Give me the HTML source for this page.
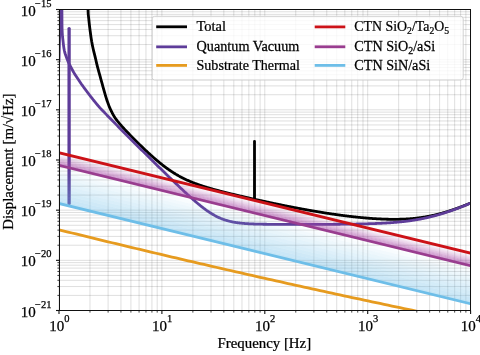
<!DOCTYPE html>
<html><head><meta charset="utf-8"><style>
html,body{margin:0;padding:0;background:#fff;width:480px;height:355px;overflow:hidden}
svg{display:block;will-change:transform}
text{font-family:"Liberation Serif",serif}
</style></head><body>
<svg width="480" height="355" viewBox="0 0 480 355">
<rect width="480" height="355" fill="#fff"/>
<defs><clipPath id="cp"><rect x="59.0" y="9.5" width="411.6" height="301.0"/></clipPath></defs>
<g stroke="#000" stroke-opacity="0.145" stroke-width="0.9">
<line x1="59.00" y1="9.5" x2="59.00" y2="310.5" />
<line x1="89.98" y1="9.5" x2="89.98" y2="310.5" />
<line x1="108.10" y1="9.5" x2="108.10" y2="310.5" />
<line x1="120.95" y1="9.5" x2="120.95" y2="310.5" />
<line x1="130.92" y1="9.5" x2="130.92" y2="310.5" />
<line x1="139.07" y1="9.5" x2="139.07" y2="310.5" />
<line x1="145.96" y1="9.5" x2="145.96" y2="310.5" />
<line x1="151.93" y1="9.5" x2="151.93" y2="310.5" />
<line x1="157.19" y1="9.5" x2="157.19" y2="310.5" />
<line x1="161.90" y1="9.5" x2="161.90" y2="310.5" />
<line x1="192.88" y1="9.5" x2="192.88" y2="310.5" />
<line x1="211.00" y1="9.5" x2="211.00" y2="310.5" />
<line x1="223.85" y1="9.5" x2="223.85" y2="310.5" />
<line x1="233.82" y1="9.5" x2="233.82" y2="310.5" />
<line x1="241.97" y1="9.5" x2="241.97" y2="310.5" />
<line x1="248.86" y1="9.5" x2="248.86" y2="310.5" />
<line x1="254.83" y1="9.5" x2="254.83" y2="310.5" />
<line x1="260.09" y1="9.5" x2="260.09" y2="310.5" />
<line x1="264.80" y1="9.5" x2="264.80" y2="310.5" />
<line x1="295.78" y1="9.5" x2="295.78" y2="310.5" />
<line x1="313.90" y1="9.5" x2="313.90" y2="310.5" />
<line x1="326.75" y1="9.5" x2="326.75" y2="310.5" />
<line x1="336.72" y1="9.5" x2="336.72" y2="310.5" />
<line x1="344.87" y1="9.5" x2="344.87" y2="310.5" />
<line x1="351.76" y1="9.5" x2="351.76" y2="310.5" />
<line x1="357.73" y1="9.5" x2="357.73" y2="310.5" />
<line x1="362.99" y1="9.5" x2="362.99" y2="310.5" />
<line x1="367.70" y1="9.5" x2="367.70" y2="310.5" />
<line x1="398.68" y1="9.5" x2="398.68" y2="310.5" />
<line x1="416.80" y1="9.5" x2="416.80" y2="310.5" />
<line x1="429.65" y1="9.5" x2="429.65" y2="310.5" />
<line x1="439.62" y1="9.5" x2="439.62" y2="310.5" />
<line x1="447.77" y1="9.5" x2="447.77" y2="310.5" />
<line x1="454.66" y1="9.5" x2="454.66" y2="310.5" />
<line x1="460.63" y1="9.5" x2="460.63" y2="310.5" />
<line x1="465.89" y1="9.5" x2="465.89" y2="310.5" />
<line x1="470.60" y1="9.5" x2="470.60" y2="310.5" />
<line x1="59.0" y1="310.50" x2="470.6" y2="310.50" />
<line x1="59.0" y1="295.40" x2="470.6" y2="295.40" />
<line x1="59.0" y1="286.56" x2="470.6" y2="286.56" />
<line x1="59.0" y1="280.30" x2="470.6" y2="280.30" />
<line x1="59.0" y1="275.44" x2="470.6" y2="275.44" />
<line x1="59.0" y1="271.46" x2="470.6" y2="271.46" />
<line x1="59.0" y1="268.10" x2="470.6" y2="268.10" />
<line x1="59.0" y1="265.19" x2="470.6" y2="265.19" />
<line x1="59.0" y1="262.63" x2="470.6" y2="262.63" />
<line x1="59.0" y1="260.33" x2="470.6" y2="260.33" />
<line x1="59.0" y1="245.23" x2="470.6" y2="245.23" />
<line x1="59.0" y1="236.40" x2="470.6" y2="236.40" />
<line x1="59.0" y1="230.13" x2="470.6" y2="230.13" />
<line x1="59.0" y1="225.27" x2="470.6" y2="225.27" />
<line x1="59.0" y1="221.30" x2="470.6" y2="221.30" />
<line x1="59.0" y1="217.94" x2="470.6" y2="217.94" />
<line x1="59.0" y1="215.03" x2="470.6" y2="215.03" />
<line x1="59.0" y1="212.46" x2="470.6" y2="212.46" />
<line x1="59.0" y1="210.17" x2="470.6" y2="210.17" />
<line x1="59.0" y1="195.06" x2="470.6" y2="195.06" />
<line x1="59.0" y1="186.23" x2="470.6" y2="186.23" />
<line x1="59.0" y1="179.96" x2="470.6" y2="179.96" />
<line x1="59.0" y1="175.10" x2="470.6" y2="175.10" />
<line x1="59.0" y1="171.13" x2="470.6" y2="171.13" />
<line x1="59.0" y1="167.77" x2="470.6" y2="167.77" />
<line x1="59.0" y1="164.86" x2="470.6" y2="164.86" />
<line x1="59.0" y1="162.30" x2="470.6" y2="162.30" />
<line x1="59.0" y1="160.00" x2="470.6" y2="160.00" />
<line x1="59.0" y1="144.90" x2="470.6" y2="144.90" />
<line x1="59.0" y1="136.06" x2="470.6" y2="136.06" />
<line x1="59.0" y1="129.80" x2="470.6" y2="129.80" />
<line x1="59.0" y1="124.94" x2="470.6" y2="124.94" />
<line x1="59.0" y1="120.96" x2="470.6" y2="120.96" />
<line x1="59.0" y1="117.60" x2="470.6" y2="117.60" />
<line x1="59.0" y1="114.69" x2="470.6" y2="114.69" />
<line x1="59.0" y1="112.13" x2="470.6" y2="112.13" />
<line x1="59.0" y1="109.83" x2="470.6" y2="109.83" />
<line x1="59.0" y1="94.73" x2="470.6" y2="94.73" />
<line x1="59.0" y1="85.90" x2="470.6" y2="85.90" />
<line x1="59.0" y1="79.63" x2="470.6" y2="79.63" />
<line x1="59.0" y1="74.77" x2="470.6" y2="74.77" />
<line x1="59.0" y1="70.80" x2="470.6" y2="70.80" />
<line x1="59.0" y1="67.44" x2="470.6" y2="67.44" />
<line x1="59.0" y1="64.53" x2="470.6" y2="64.53" />
<line x1="59.0" y1="61.96" x2="470.6" y2="61.96" />
<line x1="59.0" y1="59.67" x2="470.6" y2="59.67" />
<line x1="59.0" y1="44.56" x2="470.6" y2="44.56" />
<line x1="59.0" y1="35.73" x2="470.6" y2="35.73" />
<line x1="59.0" y1="29.46" x2="470.6" y2="29.46" />
<line x1="59.0" y1="24.60" x2="470.6" y2="24.60" />
<line x1="59.0" y1="20.63" x2="470.6" y2="20.63" />
<line x1="59.0" y1="17.27" x2="470.6" y2="17.27" />
<line x1="59.0" y1="14.36" x2="470.6" y2="14.36" />
<line x1="59.0" y1="11.80" x2="470.6" y2="11.80" />
</g>
<g clip-path="url(#cp)" fill="none" stroke-linejoin="round" stroke-linecap="butt">
<path d="M87.70,0.00 L88.20,14.12 L88.70,18.40 L89.20,23.03 L89.70,27.31 L90.20,31.27 L90.70,35.03 L91.20,38.51 L91.70,41.58 L92.20,44.27 L92.70,46.71 L93.20,49.00 L93.70,51.13 L94.20,53.11 L94.70,55.08 L95.20,57.14 L95.70,59.28 L96.20,61.45 L96.70,63.57 L97.20,65.63 L97.70,67.58 L98.20,69.46 L98.70,71.30 L99.20,73.12 L99.70,74.93 L100.20,76.74 L100.70,78.54 L101.20,80.35 L101.70,82.17 L102.20,83.99 L102.70,85.83 L103.20,87.65 L103.70,89.46 L104.20,91.24 L104.70,92.97 L105.20,94.66 L105.70,96.30 L106.20,97.90 L106.70,99.45 L107.20,100.95 L107.70,102.39 L108.20,103.78 L108.70,105.12 L109.20,106.39 L109.70,107.62 L110.20,108.78 L110.70,109.90 L111.20,110.96 L111.70,111.98 L112.20,112.95 L112.70,113.87 L113.20,114.75 L113.70,115.60 L114.20,116.41 L114.70,117.19 L115.20,117.94 L115.70,118.67 L116.20,119.37 L116.70,120.05 L117.20,120.71 L117.70,121.36 L118.20,121.98 L118.70,122.60 L119.20,123.21 L119.70,123.80 L120.20,124.38 L120.70,124.96 L121.20,125.53 L121.70,126.09 L122.20,126.65 L122.70,127.20 L123.20,127.75 L123.70,128.29 L124.20,128.83 L124.70,129.37 L125.20,129.90 L125.70,130.43 L126.20,130.96 L126.70,131.48 L127.20,132.01 L127.70,132.53 L128.20,133.05 L128.70,133.57 L129.20,134.08 L129.70,134.60 L130.20,135.11 L130.70,135.63 L131.20,136.14 L131.70,136.65 L132.20,137.16 L132.70,137.66 L133.20,138.17 L133.70,138.67 L134.20,139.18 L134.70,139.68 L135.20,140.18 L135.70,140.68 L136.20,141.18 L136.70,141.68 L137.20,142.17 L137.70,142.67 L138.20,143.16 L138.70,143.66 L139.20,144.15 L139.70,144.64 L140.20,145.13 L140.70,145.61 L141.20,146.10 L141.70,146.58 L142.20,147.07 L142.70,147.55 L143.20,148.03 L143.70,148.50 L144.20,148.98 L144.70,149.46 L145.20,149.93 L145.70,150.40 L146.20,150.87 L146.70,151.34 L147.20,151.80 L147.70,152.27 L148.20,152.73 L148.70,153.19 L149.20,153.65 L149.70,154.11 L150.20,154.56 L150.70,155.02 L151.20,155.47 L151.70,155.91 L152.20,156.36 L152.70,156.80 L153.20,157.25 L153.70,157.68 L154.20,158.12 L154.70,158.56 L155.20,158.99 L155.70,159.42 L156.20,159.84 L156.70,160.27 L157.20,160.69 L157.70,161.11 L158.20,161.53 L158.70,161.94 L159.20,162.35 L159.70,162.76 L160.20,163.16 L160.70,163.56 L161.20,163.96 L161.70,164.36 L162.20,164.75 L162.70,165.14 L163.20,165.53 L163.70,165.91 L164.20,166.29 L164.70,166.67 L165.20,167.05 L165.70,167.42 L166.20,167.78 L166.70,168.15 L167.20,168.51 L167.70,168.87 L168.20,169.22 L168.70,169.57 L169.20,169.92 L169.70,170.26 L170.20,170.60 L170.70,170.94 L171.20,171.27 L171.70,171.60 L172.20,171.93 L172.70,172.25 L173.20,172.57 L173.70,172.89 L174.20,173.20 L174.70,173.51 L175.20,173.81 L175.70,174.12 L176.20,174.41 L176.70,174.71 L177.20,175.00 L177.70,175.29 L178.20,175.57 L178.70,175.86 L179.20,176.13 L179.70,176.41 L180.20,176.68 L180.70,176.95 L181.20,177.21 L181.70,177.47 L182.20,177.73 L182.70,177.99 L183.20,178.24 L183.70,178.49 L184.20,178.73 L184.70,178.98 L185.20,179.22 L185.70,179.45 L186.20,179.69 L186.70,179.92 L187.20,180.15 L187.70,180.37 L188.20,180.60 L188.70,180.82 L189.20,181.03 L189.70,181.25 L190.20,181.46 L190.70,181.67 L191.20,181.88 L191.70,182.08 L192.20,182.29 L192.70,182.49 L193.20,182.69 L193.70,182.88 L194.20,183.08 L194.70,183.27 L195.20,183.46 L195.70,183.64 L196.20,183.83 L196.70,184.01 L197.20,184.19 L197.70,184.37 L198.20,184.55 L198.70,184.73 L199.20,184.90 L199.70,185.08 L200.20,185.25 L200.70,185.42 L201.20,185.58 L201.70,185.75 L202.20,185.91 L202.70,186.08 L203.20,186.24 L203.70,186.40 L204.20,186.56 L204.70,186.72 L205.20,186.87 L205.70,187.03 L206.20,187.18 L206.70,187.34 L207.20,187.49 L207.70,187.64 L208.20,187.79 L208.70,187.94 L209.20,188.08 L209.70,188.23 L210.20,188.37 L210.70,188.52 L211.20,188.66 L211.70,188.81 L212.20,188.95 L212.70,189.09 L213.20,189.23 L213.70,189.37 L214.20,189.51 L214.70,189.64 L215.20,189.78 L215.70,189.92 L216.20,190.05 L216.70,190.19 L217.20,190.32 L217.70,190.46 L218.20,190.59 L218.70,190.72 L219.20,190.85 L219.70,190.98 L220.20,191.11 L220.70,191.24 L221.20,191.37 L221.70,191.50 L222.20,191.63 L222.70,191.76 L223.20,191.89 L223.70,192.01 L224.20,192.14 L224.70,192.27 L225.20,192.39 L225.70,192.52 L226.20,192.64 L226.70,192.77 L227.20,192.89 L227.70,193.02 L228.20,193.14 L228.70,193.26 L229.20,193.38 L229.70,193.51 L230.20,193.63 L230.70,193.75 L231.20,193.87 L231.70,193.99 L232.20,194.11 L232.70,194.23 L233.20,194.35 L233.70,194.47 L234.20,194.59 L234.70,194.71 L235.20,194.83 L235.70,194.95 L236.20,195.07 L236.70,195.19 L237.20,195.31 L237.70,195.42 L238.20,195.54 L238.70,195.66 L239.20,195.78 L239.70,195.89 L240.20,196.01 L240.70,196.13 L241.20,196.24 L241.70,196.36 L242.20,196.47 L242.70,196.59 L243.20,196.70 L243.70,196.82 L244.20,196.93 L244.70,197.05 L245.20,197.16 L245.70,197.28 L246.20,197.39 L246.70,197.51 L247.20,197.62 L247.70,197.73 L248.20,197.85 L248.70,197.96 L249.20,198.07 L249.70,198.19 L250.20,198.30 L250.70,198.41 L251.20,198.52 L251.70,198.64 L252.20,198.75 L252.70,198.86 L253.20,198.97 L253.70,199.08 L254.20,199.19 L254.47,199.26 L254.50,141.30 L254.53,199.26 L254.70,199.31 L255.20,199.42 L255.70,199.53 L256.20,199.64 L256.70,199.75 L257.20,199.86 L257.70,199.97 L258.20,200.08 L258.70,200.19 L259.20,200.30 L259.70,200.41 L260.20,200.52 L260.70,200.63 L261.20,200.73 L261.70,200.84 L262.20,200.95 L262.70,201.06 L263.20,201.17 L263.70,201.28 L264.20,201.38 L264.70,201.49 L265.20,201.60 L265.70,201.71 L266.20,201.81 L266.70,201.92 L267.20,202.03 L267.70,202.13 L268.20,202.24 L268.70,202.35 L269.20,202.45 L269.70,202.56 L270.20,202.67 L270.70,202.77 L271.20,202.88 L271.70,202.98 L272.20,203.09 L272.70,203.19 L273.20,203.30 L273.70,203.40 L274.20,203.51 L274.70,203.61 L275.20,203.71 L275.70,203.82 L276.20,203.92 L276.70,204.02 L277.20,204.13 L277.70,204.23 L278.20,204.33 L278.70,204.44 L279.20,204.54 L279.70,204.64 L280.20,204.74 L280.70,204.85 L281.20,204.95 L281.70,205.05 L282.20,205.15 L282.70,205.25 L283.20,205.35 L283.70,205.45 L284.20,205.55 L284.70,205.65 L285.20,205.75 L285.70,205.85 L286.20,205.95 L286.70,206.05 L287.20,206.15 L287.70,206.25 L288.20,206.35 L288.70,206.45 L289.20,206.55 L289.70,206.64 L290.20,206.74 L290.70,206.84 L291.20,206.94 L291.70,207.03 L292.20,207.13 L292.70,207.23 L293.20,207.32 L293.70,207.42 L294.20,207.52 L294.70,207.61 L295.20,207.71 L295.70,207.80 L296.20,207.90 L296.70,207.99 L297.20,208.09 L297.70,208.18 L298.20,208.28 L298.70,208.37 L299.20,208.46 L299.70,208.56 L300.20,208.65 L300.70,208.74 L301.20,208.84 L301.70,208.93 L302.20,209.02 L302.70,209.11 L303.20,209.20 L303.70,209.30 L304.20,209.39 L304.70,209.48 L305.20,209.57 L305.70,209.66 L306.20,209.75 L306.70,209.84 L307.20,209.93 L307.70,210.02 L308.20,210.10 L308.70,210.19 L309.20,210.28 L309.70,210.37 L310.20,210.46 L310.70,210.54 L311.20,210.63 L311.70,210.72 L312.20,210.81 L312.70,210.89 L313.20,210.98 L313.70,211.06 L314.20,211.15 L314.70,211.23 L315.20,211.32 L315.70,211.40 L316.20,211.49 L316.70,211.57 L317.20,211.65 L317.70,211.74 L318.20,211.82 L318.70,211.90 L319.20,211.99 L319.70,212.07 L320.20,212.15 L320.70,212.23 L321.20,212.31 L321.70,212.39 L322.20,212.47 L322.70,212.55 L323.20,212.63 L323.70,212.71 L324.20,212.79 L324.70,212.87 L325.20,212.95 L325.70,213.03 L326.20,213.10 L326.70,213.18 L327.20,213.26 L327.70,213.33 L328.20,213.41 L328.70,213.49 L329.20,213.56 L329.70,213.64 L330.20,213.71 L330.70,213.79 L331.20,213.86 L331.70,213.93 L332.20,214.01 L332.70,214.08 L333.20,214.15 L333.70,214.23 L334.20,214.30 L334.70,214.37 L335.20,214.44 L335.70,214.51 L336.20,214.58 L336.70,214.65 L337.20,214.72 L337.70,214.79 L338.20,214.86 L338.70,214.93 L339.20,215.00 L339.70,215.06 L340.20,215.13 L340.70,215.20 L341.20,215.27 L341.70,215.33 L342.20,215.40 L342.70,215.46 L343.20,215.53 L343.70,215.59 L344.20,215.66 L344.70,215.72 L345.20,215.78 L345.70,215.85 L346.20,215.91 L346.70,215.97 L347.20,216.03 L347.70,216.09 L348.20,216.15 L348.70,216.21 L349.20,216.27 L349.70,216.33 L350.20,216.39 L350.70,216.45 L351.20,216.51 L351.70,216.57 L352.20,216.62 L352.70,216.68 L353.20,216.74 L353.70,216.79 L354.20,216.85 L354.70,216.90 L355.20,216.96 L355.70,217.01 L356.20,217.06 L356.70,217.12 L357.20,217.17 L357.70,217.22 L358.20,217.27 L358.70,217.32 L359.20,217.37 L359.70,217.42 L360.20,217.47 L360.70,217.52 L361.20,217.57 L361.70,217.62 L362.20,217.66 L362.70,217.71 L363.20,217.76 L363.70,217.80 L364.20,217.85 L364.70,217.89 L365.20,217.94 L365.70,217.98 L366.20,218.02 L366.70,218.07 L367.20,218.11 L367.70,218.15 L368.20,218.19 L368.70,218.23 L369.20,218.27 L369.70,218.31 L370.20,218.35 L370.70,218.38 L371.20,218.42 L371.70,218.46 L372.20,218.49 L372.70,218.53 L373.20,218.56 L373.70,218.60 L374.20,218.63 L374.70,218.66 L375.20,218.69 L375.70,218.72 L376.20,218.75 L376.70,218.78 L377.20,218.81 L377.70,218.84 L378.20,218.87 L378.70,218.90 L379.20,218.92 L379.70,218.95 L380.20,218.97 L380.70,219.00 L381.20,219.02 L381.70,219.04 L382.20,219.07 L382.70,219.09 L383.20,219.11 L383.70,219.13 L384.20,219.15 L384.70,219.16 L385.20,219.18 L385.70,219.20 L386.20,219.21 L386.70,219.23 L387.20,219.24 L387.70,219.25 L388.20,219.26 L388.70,219.28 L389.20,219.29 L389.70,219.30 L390.20,219.30 L390.70,219.31 L391.20,219.32 L391.70,219.32 L392.20,219.33 L392.70,219.33 L393.20,219.33 L393.70,219.34 L394.20,219.34 L394.70,219.34 L395.20,219.33 L395.70,219.33 L396.20,219.33 L396.70,219.32 L397.20,219.32 L397.70,219.31 L398.20,219.30 L398.70,219.29 L399.20,219.28 L399.70,219.27 L400.20,219.26 L400.70,219.25 L401.20,219.23 L401.70,219.22 L402.20,219.20 L402.70,219.18 L403.20,219.16 L403.70,219.14 L404.20,219.12 L404.70,219.10 L405.20,219.07 L405.70,219.05 L406.20,219.02 L406.70,218.99 L407.20,218.96 L407.70,218.93 L408.20,218.90 L408.70,218.86 L409.20,218.83 L409.70,218.79 L410.20,218.75 L410.70,218.72 L411.20,218.68 L411.70,218.63 L412.20,218.59 L412.70,218.54 L413.20,218.50 L413.70,218.45 L414.20,218.40 L414.70,218.35 L415.20,218.30 L415.70,218.24 L416.20,218.19 L416.70,218.13 L417.20,218.07 L417.70,218.01 L418.20,217.95 L418.70,217.89 L419.20,217.82 L419.70,217.76 L420.20,217.69 L420.70,217.62 L421.20,217.55 L421.70,217.48 L422.20,217.40 L422.70,217.33 L423.20,217.25 L423.70,217.17 L424.20,217.09 L424.70,217.01 L425.20,216.92 L425.70,216.84 L426.20,216.75 L426.70,216.66 L427.20,216.57 L427.70,216.48 L428.20,216.39 L428.70,216.29 L429.20,216.19 L429.70,216.09 L430.20,215.99 L430.70,215.89 L431.20,215.79 L431.70,215.68 L432.20,215.58 L432.70,215.47 L433.20,215.36 L433.70,215.24 L434.20,215.13 L434.70,215.02 L435.20,214.90 L435.70,214.78 L436.20,214.66 L436.70,214.54 L437.20,214.41 L437.70,214.29 L438.20,214.16 L438.70,214.03 L439.20,213.90 L439.70,213.77 L440.20,213.64 L440.70,213.50 L441.20,213.37 L441.70,213.23 L442.20,213.09 L442.70,212.95 L443.20,212.81 L443.70,212.66 L444.20,212.52 L444.70,212.37 L445.20,212.22 L445.70,212.07 L446.20,211.92 L446.70,211.77 L447.20,211.62 L447.70,211.46 L448.20,211.30 L448.70,211.15 L449.20,210.99 L449.70,210.83 L450.20,210.66 L450.70,210.50 L451.20,210.33 L451.70,210.17 L452.20,210.00 L452.70,209.83 L453.20,209.66 L453.70,209.49 L454.20,209.32 L454.70,209.14 L455.20,208.97 L455.70,208.79 L456.20,208.61 L456.70,208.43 L457.20,208.25 L457.70,208.07 L458.20,207.89 L458.70,207.71 L459.20,207.52 L459.70,207.34 L460.20,207.15 L460.70,206.96 L461.20,206.78 L461.70,206.59 L462.20,206.40 L462.70,206.20 L463.20,206.01 L463.70,205.82 L464.20,205.62 L464.70,205.43 L465.20,205.23 L465.70,205.04 L466.20,204.84 L466.70,204.64 L467.20,204.44 L467.70,204.24 L468.20,204.04 L468.70,203.83 L469.20,203.63 L469.70,203.43 L470.20,203.22 L470.70,203.02 L471.20,202.81" stroke="#000000" stroke-width="2.8"/>
<path d="M59.00,62.00 L59.40,45.00 L59.80,30.00 L60.10,15.00 L60.30,0.00 L60.50,-5.00 L61.00,-5.00 L61.80,0.00 L61.81,0.50 L61.81,1.00 L61.82,1.50 L61.82,2.00 L61.83,2.50 L61.84,3.00 L61.84,3.50 L61.85,4.00 L61.85,4.50 L61.86,5.00 L61.86,5.50 L61.87,6.00 L61.87,6.50 L61.88,7.00 L61.88,7.50 L61.89,8.00 L61.89,8.50 L61.90,9.00 L61.90,9.50 L61.90,10.00 L61.91,10.50 L61.91,11.00 L61.91,11.50 L61.92,12.00 L61.92,12.50 L61.92,13.00 L61.93,13.50 L61.93,14.00 L61.93,14.50 L61.93,15.00 L61.94,15.50 L61.94,16.00 L61.94,16.50 L61.94,17.00 L61.94,17.50 L61.95,18.00 L61.95,18.50 L61.95,19.00 L61.95,19.50 L61.96,20.00 L61.96,20.50 L61.96,21.00 L61.97,21.50 L61.97,22.00 L61.98,22.50 L61.98,23.00 L61.98,23.50 L61.99,24.00 L61.99,24.50 L62.00,25.00 L62.01,25.50 L62.02,26.00 L62.02,26.50 L62.04,27.00 L62.05,27.50 L62.06,28.00 L62.08,28.50 L62.10,29.00 L62.12,29.50 L62.14,30.00 L62.16,30.50 L62.18,31.00 L62.20,31.50 L62.23,32.00 L62.25,32.50 L62.28,33.00 L62.31,33.50 L62.34,34.00 L62.37,34.50 L62.40,35.00 L62.44,35.50 L62.48,36.00 L62.52,36.50 L62.58,37.00 L62.63,37.50 L62.68,38.00 L62.74,38.50 L62.80,39.00 L62.86,39.50 L62.92,40.00 L62.98,40.50 L63.03,41.00 L63.09,41.50 L63.14,42.00 L63.20,42.50 L63.25,43.00 L63.31,43.50 L63.36,44.00 L63.42,44.50 L63.48,45.00 L63.54,45.50 L63.61,46.00 L63.67,46.50 L63.74,47.00 L63.82,47.50 L63.89,48.00 L63.97,48.50 L64.06,49.00 L64.15,49.50 L64.24,50.00 L64.34,50.50 L64.44,51.00 L64.56,51.50 L64.68,52.00 L64.82,52.50 L64.97,53.00 L65.12,53.50 L65.29,54.00 L65.46,54.50 L65.63,55.00 L65.80,55.50 L65.98,56.00 L66.16,56.50 L66.34,57.00 L66.51,57.50 L66.69,58.00 L66.88,58.50 L67.06,59.00 L67.25,59.50 L67.45,60.00 L67.64,60.50 L67.85,61.00 L68.06,61.50 L68.27,62.00 L68.49,62.50 L68.72,63.00 L68.96,63.50 L69.20,64.00 L69.45,64.50 L69.71,65.00 L69.97,65.50 L70.24,66.00 L70.50,66.50 L70.77,67.00 L71.04,67.50 L71.31,68.00 L71.57,68.50 L71.84,69.00 L72.12,69.50 L72.39,70.00 L72.67,70.50 L72.95,71.00 L73.23,71.50 L73.51,72.00 L73.81,72.50 L74.00,72.83 L74.50,73.66 L75.00,74.47 L75.50,75.25 L76.00,76.02 L76.50,76.77 L77.00,77.52 L77.50,78.26 L78.00,79.00 L78.50,79.75 L79.00,80.50 L79.50,81.26 L80.00,82.01 L80.50,82.76 L81.00,83.49 L81.50,84.22 L82.00,84.91 L82.50,85.60 L83.00,86.28 L83.50,86.96 L84.00,87.64 L84.50,88.32 L85.00,89.00 L85.50,89.68 L86.00,90.35 L86.50,91.02 L87.00,91.69 L87.50,92.36 L88.00,93.02 L88.50,93.69 L89.00,94.35 L89.50,95.00 L90.00,95.66 L90.50,96.31 L91.00,96.95 L91.50,97.59 L92.00,98.23 L92.50,98.87 L93.00,99.50 L93.50,100.13 L94.00,100.75 L94.50,101.37 L95.00,101.99 L95.50,102.60 L96.00,103.21 L96.50,103.81 L97.00,104.40 L97.50,105.00 L98.00,105.58 L98.50,106.16 L99.00,106.74 L99.50,107.31 L100.00,107.87 L100.50,108.40 L101.00,108.92 L101.50,109.45 L102.00,109.97 L102.50,110.49 L103.00,111.02 L103.50,111.54 L104.00,112.06 L104.50,112.58 L105.00,113.10 L105.50,113.61 L106.00,114.13 L106.50,114.65 L107.00,115.16 L107.50,115.68 L108.00,116.20 L108.50,116.71 L109.00,117.22 L109.50,117.74 L110.00,118.25 L110.50,118.76 L111.00,119.27 L111.50,119.78 L112.00,120.30 L112.50,120.81 L113.00,121.32 L113.50,121.83 L114.00,122.33 L114.50,122.84 L115.00,123.35 L115.50,123.86 L116.00,124.37 L116.50,124.87 L117.00,125.38 L117.50,125.89 L118.00,126.39 L118.50,126.90 L119.00,127.40 L119.50,127.91 L120.00,128.41 L120.50,128.92 L121.00,129.42 L121.50,129.92 L122.00,130.43 L122.50,130.93 L123.00,131.43 L123.50,131.94 L124.00,132.44 L124.50,132.94 L125.00,133.44 L125.50,133.94 L126.00,134.45 L126.50,134.95 L127.00,135.45 L127.50,135.95 L128.00,136.45 L128.50,136.95 L129.00,137.45 L129.50,137.95 L130.00,138.45 L130.50,138.95 L131.00,139.45 L131.50,139.95 L132.00,140.44 L132.50,140.94 L133.00,141.44 L133.50,141.94 L134.00,142.44 L134.50,142.94 L135.00,143.43 L135.50,143.93 L136.00,144.43 L136.50,144.92 L137.00,145.42 L137.50,145.92 L138.00,146.41 L138.50,146.91 L139.00,147.41 L139.50,147.90 L140.00,148.40 L140.50,148.90 L141.00,149.39 L141.50,149.89 L142.00,150.38 L142.50,150.88 L143.00,151.37 L143.50,151.87 L144.00,152.36 L144.50,152.86 L145.00,153.35 L145.50,153.85 L146.00,154.34 L146.50,154.83 L147.00,155.33 L147.50,155.82 L148.00,156.31 L148.50,156.81 L149.00,157.30 L149.50,157.79 L150.00,158.29 L150.50,158.78 L151.00,159.27 L151.50,159.77 L152.00,160.26 L152.50,160.75 L153.00,161.24 L153.50,161.74 L154.00,162.23 L154.50,162.72 L155.00,163.21 L155.50,163.70 L156.00,164.19 L156.50,164.68 L157.00,165.17 L157.50,165.67 L158.00,166.16 L158.50,166.65 L159.00,167.14 L159.50,167.63 L160.00,168.12 L160.50,168.61 L161.00,169.10 L161.50,169.58 L162.00,170.07 L162.50,170.56 L163.00,171.05 L163.50,171.54 L164.00,172.03 L164.50,172.51 L165.00,173.00 L165.50,173.49 L166.00,173.98 L166.50,174.46 L167.00,174.95 L167.50,175.44 L168.00,175.92 L168.50,176.41 L169.00,176.89 L169.50,177.38 L170.00,177.86 L170.50,178.35 L171.00,178.83 L171.50,179.32 L172.00,179.80 L172.50,180.28 L173.00,180.76 L173.50,181.25 L174.00,181.73 L174.50,182.21 L175.00,182.69 L175.50,183.17 L176.00,183.65 L176.50,184.13 L177.00,184.60 L177.50,185.08 L178.00,185.56 L178.50,186.04 L179.00,186.51 L179.50,186.99 L180.00,187.46 L180.50,187.94 L181.00,188.41 L181.50,188.88 L182.00,189.35 L182.50,189.82 L183.00,190.29 L183.50,190.76 L184.00,191.23 L184.50,191.69 L185.00,192.16 L185.50,192.62 L186.00,193.09 L186.50,193.55 L187.00,194.01 L187.50,194.47 L188.00,194.92 L188.50,195.38 L189.00,195.84 L189.50,196.29 L190.00,196.74 L190.50,197.19 L191.00,197.64 L191.50,198.09 L192.00,198.53 L192.50,198.98 L193.00,199.42 L193.50,199.86 L194.00,200.29 L194.50,200.73 L195.00,201.16 L195.50,201.59 L196.00,202.02 L196.50,202.45 L197.00,202.87 L197.50,203.29 L198.00,203.71 L198.50,204.12 L199.00,204.53 L199.50,204.94 L200.00,205.35 L200.50,205.75 L201.00,206.15 L201.50,206.55 L202.00,206.94 L202.50,207.33 L203.00,207.71 L203.50,208.10 L204.00,208.47 L204.50,208.85 L205.00,209.22 L205.50,209.58 L206.00,209.95 L206.50,210.30 L207.00,210.66 L207.50,211.00 L208.00,211.35 L208.50,211.69 L209.00,212.02 L209.50,212.35 L210.00,212.68 L210.50,213.00 L211.00,213.31 L211.50,213.62 L212.00,213.93 L212.50,214.23 L213.00,214.52 L213.50,214.81 L214.00,215.09 L214.50,215.37 L215.00,215.64 L215.50,215.91 L216.00,216.17 L216.50,216.43 L217.00,216.68 L217.50,216.93 L218.00,217.17 L218.50,217.40 L219.00,217.63 L219.50,217.85 L220.00,218.07 L220.50,218.29 L221.00,218.49 L221.50,218.70 L222.00,218.89 L222.50,219.08 L223.00,219.27 L223.50,219.45 L224.00,219.63 L224.50,219.80 L225.00,219.97 L225.50,220.13 L226.00,220.28 L226.50,220.43 L227.00,220.58 L227.50,220.72 L228.00,220.86 L228.50,221.00 L229.00,221.13 L229.50,221.25 L230.00,221.37 L230.50,221.49 L231.00,221.60 L231.50,221.71 L232.00,221.82 L232.50,221.92 L233.00,222.02 L233.50,222.11 L234.00,222.20 L234.50,222.29 L235.00,222.37 L235.50,222.46 L236.00,222.54 L236.50,222.61 L237.00,222.68 L237.50,222.75 L238.00,222.82 L238.50,222.89 L239.00,222.95 L239.50,223.01 L240.00,223.07 L240.50,223.12 L241.00,223.18 L241.50,223.23 L242.00,223.28 L242.50,223.32 L243.00,223.37 L243.50,223.41 L244.00,223.45 L244.50,223.49 L245.00,223.53 L245.50,223.57 L246.00,223.61 L246.50,223.64 L247.00,223.67 L247.50,223.70 L248.00,223.73 L248.50,223.76 L249.00,223.79 L249.50,223.82 L250.00,223.84 L250.50,223.87 L251.00,223.89 L251.50,223.91 L252.00,223.93 L252.50,223.95 L253.00,223.97 L253.50,223.99 L254.00,224.01 L254.50,224.03 L255.00,224.04 L255.50,224.06 L256.00,224.07 L256.50,224.09 L257.00,224.10 L257.50,224.11 L258.00,224.13 L258.50,224.14 L259.00,224.15 L259.50,224.16 L260.00,224.17 L260.50,224.18 L261.00,224.19 L261.50,224.20 L262.00,224.21 L262.50,224.22 L263.00,224.23 L263.50,224.23 L264.00,224.24 L264.50,224.25 L265.00,224.26 L265.50,224.26 L266.00,224.27 L266.50,224.27 L267.00,224.28 L267.50,224.29 L268.00,224.29 L268.50,224.30 L269.00,224.30 L269.50,224.30 L270.00,224.31 L270.50,224.31 L271.00,224.32 L271.50,224.32 L272.00,224.32 L272.50,224.33 L273.00,224.33 L273.50,224.33 L274.00,224.34 L274.50,224.34 L275.00,224.34 L275.50,224.34 L276.00,224.35 L276.50,224.35 L277.00,224.35 L277.50,224.35 L278.00,224.35 L278.50,224.36 L279.00,224.36 L279.50,224.36 L280.00,224.36 L280.50,224.36 L281.00,224.36 L281.50,224.37 L282.00,224.37 L282.50,224.37 L283.00,224.37 L283.50,224.37 L284.00,224.37 L284.50,224.37 L285.00,224.37 L285.50,224.37 L286.00,224.37 L286.50,224.37 L287.00,224.37 L287.50,224.38 L288.00,224.38 L288.50,224.38 L289.00,224.38 L289.50,224.38 L290.00,224.38 L290.50,224.38 L291.00,224.38 L291.50,224.38 L292.00,224.38 L292.50,224.38 L293.00,224.38 L293.50,224.38 L294.00,224.38 L294.50,224.38 L295.00,224.38 L295.50,224.38 L296.00,224.38 L296.50,224.38 L297.00,224.38 L297.50,224.38 L298.00,224.38 L298.50,224.38 L299.00,224.38 L299.50,224.38 L300.00,224.38 L300.50,224.38 L301.00,224.37 L301.50,224.37 L302.00,224.37 L302.50,224.37 L303.00,224.37 L303.50,224.37 L304.00,224.37 L304.50,224.37 L305.00,224.37 L305.50,224.37 L306.00,224.37 L306.50,224.37 L307.00,224.37 L307.50,224.37 L308.00,224.37 L308.50,224.36 L309.00,224.36 L309.50,224.36 L310.00,224.36 L310.50,224.36 L311.00,224.36 L311.50,224.36 L312.00,224.36 L312.50,224.36 L313.00,224.36 L313.50,224.35 L314.00,224.35 L314.50,224.35 L315.00,224.35 L315.50,224.35 L316.00,224.35 L316.50,224.35 L317.00,224.34 L317.50,224.34 L318.00,224.34 L318.50,224.34 L319.00,224.34 L319.50,224.34 L320.00,224.34 L320.50,224.33 L321.00,224.33 L321.50,224.33 L322.00,224.33 L322.50,224.33 L323.00,224.32 L323.50,224.32 L324.00,224.32 L324.50,224.32 L325.00,224.32 L325.50,224.31 L326.00,224.31 L326.50,224.31 L327.00,224.31 L327.50,224.31 L328.00,224.30 L328.50,224.30 L329.00,224.30 L329.50,224.30 L330.00,224.29 L330.50,224.29 L331.00,224.29 L331.50,224.28 L332.00,224.28 L332.50,224.28 L333.00,224.28 L333.50,224.27 L334.00,224.27 L334.50,224.27 L335.00,224.26 L335.50,224.26 L336.00,224.26 L336.50,224.25 L337.00,224.25 L337.50,224.24 L338.00,224.24 L338.50,224.24 L339.00,224.23 L339.50,224.23 L340.00,224.23 L340.50,224.22 L341.00,224.22 L341.50,224.21 L342.00,224.21 L342.50,224.20 L343.00,224.20 L343.50,224.19 L344.00,224.19 L344.50,224.18 L345.00,224.18 L345.50,224.17 L346.00,224.17 L346.50,224.16 L347.00,224.16 L347.50,224.15 L348.00,224.15 L348.50,224.14 L349.00,224.13 L349.50,224.13 L350.00,224.12 L350.50,224.11 L351.00,224.11 L351.50,224.10 L352.00,224.09 L352.50,224.09 L353.00,224.08 L353.50,224.07 L354.00,224.06 L354.50,224.06 L355.00,224.05 L355.50,224.04 L356.00,224.03 L356.50,224.02 L357.00,224.01 L357.50,224.01 L358.00,224.00 L358.50,223.99 L359.00,223.98 L359.50,223.97 L360.00,223.96 L360.50,223.95 L361.00,223.94 L361.50,223.93 L362.00,223.92 L362.50,223.91 L363.00,223.89 L363.50,223.88 L364.00,223.87 L364.50,223.86 L365.00,223.85 L365.50,223.83 L366.00,223.82 L366.50,223.81 L367.00,223.80 L367.50,223.78 L368.00,223.77 L368.50,223.75 L369.00,223.74 L369.50,223.72 L370.00,223.71 L370.50,223.69 L371.00,223.68 L371.50,223.66 L372.00,223.65 L372.50,223.63 L373.00,223.61 L373.50,223.59 L374.00,223.58 L374.50,223.56 L375.00,223.54 L375.50,223.52 L376.00,223.50 L376.50,223.48 L377.00,223.46 L377.50,223.44 L378.00,223.42 L378.50,223.40 L379.00,223.38 L379.50,223.35 L380.00,223.33 L380.50,223.31 L381.00,223.28 L381.50,223.26 L382.00,223.23 L382.50,223.21 L383.00,223.18 L383.50,223.16 L384.00,223.13 L384.50,223.10 L385.00,223.07 L385.50,223.05 L386.00,223.02 L386.50,222.99 L387.00,222.96 L387.50,222.93 L388.00,222.90 L388.50,222.86 L389.00,222.83 L389.50,222.80 L390.00,222.76 L390.50,222.73 L391.00,222.69 L391.50,222.66 L392.00,222.62 L392.50,222.58 L393.00,222.55 L393.50,222.51 L394.00,222.47 L394.50,222.43 L395.00,222.39 L395.50,222.34 L396.00,222.30 L396.50,222.26 L397.00,222.21 L397.50,222.17 L398.00,222.12 L398.50,222.08 L399.00,222.03 L399.50,221.98 L400.00,221.93 L400.50,221.88 L401.00,221.83 L401.50,221.78 L402.00,221.73 L402.50,221.67 L403.00,221.62 L403.50,221.56 L404.00,221.50 L404.50,221.45 L405.00,221.39 L405.50,221.33 L406.00,221.27 L406.50,221.21 L407.00,221.14 L407.50,221.08 L408.00,221.02 L408.50,220.95 L409.00,220.88 L409.50,220.81 L410.00,220.74 L410.50,220.67 L411.00,220.60 L411.50,220.53 L412.00,220.46 L412.50,220.38 L413.00,220.31 L413.50,220.23 L414.00,220.15 L414.50,220.07 L415.00,219.99 L415.50,219.91 L416.00,219.83 L416.50,219.74 L417.00,219.66 L417.50,219.57 L418.00,219.48 L418.50,219.39 L419.00,219.30 L419.50,219.21 L420.00,219.12 L420.50,219.02 L421.00,218.92 L421.50,218.83 L422.00,218.73 L422.50,218.63 L423.00,218.53 L423.50,218.43 L424.00,218.32 L424.50,218.22 L425.00,218.11 L425.50,218.00 L426.00,217.89 L426.50,217.78 L427.00,217.67 L427.50,217.56 L428.00,217.44 L428.50,217.33 L429.00,217.21 L429.50,217.09 L430.00,216.97 L430.50,216.85 L431.00,216.73 L431.50,216.60 L432.00,216.48 L432.50,216.35 L433.00,216.22 L433.50,216.09 L434.00,215.96 L434.50,215.83 L435.00,215.70 L435.50,215.56 L436.00,215.43 L436.50,215.29 L437.00,215.15 L437.50,215.01 L438.00,214.87 L438.50,214.72 L439.00,214.58 L439.50,214.43 L440.00,214.29 L440.50,214.14 L441.00,213.99 L441.50,213.84 L442.00,213.69 L442.50,213.53 L443.00,213.38 L443.50,213.22 L444.00,213.07 L444.50,212.91 L445.00,212.75 L445.50,212.59 L446.00,212.43 L446.50,212.26 L447.00,212.10 L447.50,211.93 L448.00,211.77 L448.50,211.60 L449.00,211.43 L449.50,211.26 L450.00,211.09 L450.50,210.91 L451.00,210.74 L451.50,210.57 L452.00,210.39 L452.50,210.21 L453.00,210.03 L453.50,209.85 L454.00,209.67 L454.50,209.49 L455.00,209.31 L455.50,209.13 L456.00,208.94 L456.50,208.76 L457.00,208.57 L457.50,208.38 L458.00,208.20 L458.50,208.01 L459.00,207.82 L459.50,207.63 L460.00,207.43 L460.50,207.24 L461.00,207.05 L461.50,206.85 L462.00,206.66 L462.50,206.46 L463.00,206.26 L463.50,206.06 L464.00,205.87 L464.50,205.67 L465.00,205.47 L465.50,205.26 L466.00,205.06 L466.50,204.86 L467.00,204.66 L467.50,204.45 L468.00,204.25 L468.50,204.04 L469.00,203.83 L469.50,203.63 L470.00,203.42 L470.50,203.21 L471.00,203.00" stroke="#5e3c99" stroke-width="2.8"/>
<path d="M69.1,203.5 L69.1,28.6" stroke="#5e3c99" stroke-width="3.3" stroke-linecap="round"/>
<path d="M56.00,229.06 L60.00,230.05 L64.00,231.03 L68.00,232.02 L72.00,233.00 L76.00,233.98 L80.00,234.97 L84.00,235.94 L88.00,236.92 L92.00,237.89 L96.00,238.87 L100.00,239.84 L104.00,240.81 L108.00,241.78 L112.00,242.74 L116.00,243.71 L120.00,244.67 L124.00,245.63 L128.00,246.59 L132.00,247.55 L136.00,248.50 L140.00,249.46 L144.00,250.41 L148.00,251.36 L152.00,252.31 L156.00,253.25 L160.00,254.20 L164.00,255.14 L168.00,256.09 L172.00,257.03 L176.00,257.96 L180.00,258.90 L184.00,259.83 L188.00,260.77 L192.00,261.70 L196.00,262.63 L200.00,263.56 L204.00,264.48 L208.00,265.41 L212.00,266.33 L216.00,267.25 L220.00,268.17 L224.00,269.09 L228.00,270.00 L232.00,270.91 L236.00,271.83 L240.00,272.74 L244.00,273.64 L248.00,274.55 L252.00,275.46 L256.00,276.36 L260.00,277.26 L264.00,278.16 L268.00,279.06 L272.00,279.96 L276.00,280.85 L280.00,281.74 L284.00,282.63 L288.00,283.52 L292.00,284.41 L296.00,285.30 L300.00,286.18 L304.00,287.06 L308.00,287.94 L312.00,288.82 L316.00,289.70 L320.00,290.57 L324.00,291.45 L328.00,292.32 L332.00,293.19 L336.00,294.06 L340.00,294.92 L344.00,295.79 L348.00,296.65 L352.00,297.51 L356.00,298.37 L360.00,299.23 L364.00,300.09 L368.00,300.94 L372.00,301.79 L376.00,302.64 L380.00,303.49 L384.00,304.34 L388.00,305.19 L392.00,306.03 L396.00,306.87 L400.00,307.71 L404.00,308.55 L408.00,309.39 L412.00,310.22 L416.00,311.06 L420.00,311.89 L424.00,312.72 L428.00,313.55 L432.00,314.37 L436.00,315.20 L440.00,316.02 L444.00,316.84 L448.00,317.66 L452.00,318.48 L456.00,319.29 L460.00,320.11 L464.00,320.92 L468.00,321.73 L472.00,322.54" stroke="#e69b1f" stroke-width="2.8"/>
<g stroke="none">
<path d="M57.00,203.01 L472.60,304.32 L472.60,301.15 L57.00,199.84 Z" fill="#6ebee8" fill-opacity="0.403"/>
<path d="M57.00,199.84 L472.60,301.15 L472.60,297.97 L57.00,196.66 Z" fill="#6ebee8" fill-opacity="0.367"/>
<path d="M57.00,196.66 L472.60,297.97 L472.60,294.80 L57.00,193.49 Z" fill="#6ebee8" fill-opacity="0.332"/>
<path d="M57.00,193.49 L472.60,294.80 L472.60,291.62 L57.00,190.31 Z" fill="#6ebee8" fill-opacity="0.297"/>
<path d="M57.00,190.31 L472.60,291.62 L472.60,288.45 L57.00,187.14 Z" fill="#6ebee8" fill-opacity="0.263"/>
<path d="M57.00,187.14 L472.60,288.45 L472.60,285.27 L57.00,183.96 Z" fill="#6ebee8" fill-opacity="0.228"/>
<path d="M57.00,183.96 L472.60,285.27 L472.60,282.10 L57.00,180.79 Z" fill="#6ebee8" fill-opacity="0.193"/>
<path d="M57.00,180.79 L472.60,282.10 L472.60,278.92 L57.00,177.61 Z" fill="#6ebee8" fill-opacity="0.158"/>
<path d="M57.00,177.61 L472.60,278.92 L472.60,275.75 L57.00,174.44 Z" fill="#6ebee8" fill-opacity="0.122"/>
<path d="M57.00,174.44 L472.60,275.75 L472.60,272.57 L57.00,171.26 Z" fill="#6ebee8" fill-opacity="0.088"/>
<path d="M57.00,171.26 L472.60,272.57 L472.60,269.40 L57.00,168.09 Z" fill="#6ebee8" fill-opacity="0.052"/>
<path d="M57.00,168.09 L472.60,269.40 L472.60,266.22 L57.00,164.91 Z" fill="#6ebee8" fill-opacity="0.017"/>
<path d="M57.00,164.91 L472.60,266.22 L472.60,265.32 L57.00,164.01 Z" fill="#a848a8" fill-opacity="0.688"/>
<path d="M57.00,164.01 L472.60,265.32 L472.60,264.42 L57.00,163.11 Z" fill="#a848a8" fill-opacity="0.625"/>
<path d="M57.00,163.11 L472.60,264.42 L472.60,263.52 L57.00,162.21 Z" fill="#a848a8" fill-opacity="0.563"/>
<path d="M57.00,162.21 L472.60,263.52 L472.60,262.62 L57.00,161.31 Z" fill="#a848a8" fill-opacity="0.503"/>
<path d="M57.00,161.31 L472.60,262.62 L472.60,261.72 L57.00,160.41 Z" fill="#a848a8" fill-opacity="0.443"/>
<path d="M57.00,160.41 L472.60,261.72 L472.60,260.82 L57.00,159.51 Z" fill="#a848a8" fill-opacity="0.386"/>
<path d="M57.00,159.51 L472.60,260.82 L472.60,259.92 L57.00,158.61 Z" fill="#a848a8" fill-opacity="0.330"/>
<path d="M57.00,158.61 L472.60,259.92 L472.60,259.02 L57.00,157.71 Z" fill="#a848a8" fill-opacity="0.276"/>
<path d="M57.00,157.71 L472.60,259.02 L472.60,258.12 L57.00,156.81 Z" fill="#a848a8" fill-opacity="0.224"/>
<path d="M57.00,156.81 L472.60,258.12 L472.60,257.22 L57.00,155.91 Z" fill="#a848a8" fill-opacity="0.174"/>
<path d="M57.00,155.91 L472.60,257.22 L472.60,256.32 L57.00,155.01 Z" fill="#a848a8" fill-opacity="0.127"/>
<path d="M57.00,155.01 L472.60,256.32 L472.60,255.42 L57.00,154.11 Z" fill="#a848a8" fill-opacity="0.084"/>
<path d="M57.00,154.11 L472.60,255.42 L472.60,254.52 L57.00,153.21 Z" fill="#a848a8" fill-opacity="0.044"/>
<path d="M57.00,153.21 L472.60,254.52 L472.60,253.62 L57.00,152.31 Z" fill="#a848a8" fill-opacity="0.011"/>
</g>
<path d="M57.00,203.01 L472.60,304.32" stroke="#6ebee8" stroke-width="2.8"/>
<path d="M57.00,164.91 L472.60,266.22" stroke="#993d8f" stroke-width="2.8"/>
<path d="M57.00,152.31 L472.60,253.62" stroke="#cc1218" stroke-width="2.8"/>
</g>
<g stroke="#111" fill="none">
<rect x="59.5" y="9.5" width="411" height="301" stroke-width="1"/>
<line x1="59.00" y1="310.5" x2="59.00" y2="314.0" stroke-width="1.1"/>
<line x1="89.98" y1="310.5" x2="89.98" y2="312.6" stroke-width="0.8"/>
<line x1="108.10" y1="310.5" x2="108.10" y2="312.6" stroke-width="0.8"/>
<line x1="120.95" y1="310.5" x2="120.95" y2="312.6" stroke-width="0.8"/>
<line x1="130.92" y1="310.5" x2="130.92" y2="312.6" stroke-width="0.8"/>
<line x1="139.07" y1="310.5" x2="139.07" y2="312.6" stroke-width="0.8"/>
<line x1="145.96" y1="310.5" x2="145.96" y2="312.6" stroke-width="0.8"/>
<line x1="151.93" y1="310.5" x2="151.93" y2="312.6" stroke-width="0.8"/>
<line x1="157.19" y1="310.5" x2="157.19" y2="312.6" stroke-width="0.8"/>
<line x1="161.90" y1="310.5" x2="161.90" y2="314.0" stroke-width="1.1"/>
<line x1="192.88" y1="310.5" x2="192.88" y2="312.6" stroke-width="0.8"/>
<line x1="211.00" y1="310.5" x2="211.00" y2="312.6" stroke-width="0.8"/>
<line x1="223.85" y1="310.5" x2="223.85" y2="312.6" stroke-width="0.8"/>
<line x1="233.82" y1="310.5" x2="233.82" y2="312.6" stroke-width="0.8"/>
<line x1="241.97" y1="310.5" x2="241.97" y2="312.6" stroke-width="0.8"/>
<line x1="248.86" y1="310.5" x2="248.86" y2="312.6" stroke-width="0.8"/>
<line x1="254.83" y1="310.5" x2="254.83" y2="312.6" stroke-width="0.8"/>
<line x1="260.09" y1="310.5" x2="260.09" y2="312.6" stroke-width="0.8"/>
<line x1="264.80" y1="310.5" x2="264.80" y2="314.0" stroke-width="1.1"/>
<line x1="295.78" y1="310.5" x2="295.78" y2="312.6" stroke-width="0.8"/>
<line x1="313.90" y1="310.5" x2="313.90" y2="312.6" stroke-width="0.8"/>
<line x1="326.75" y1="310.5" x2="326.75" y2="312.6" stroke-width="0.8"/>
<line x1="336.72" y1="310.5" x2="336.72" y2="312.6" stroke-width="0.8"/>
<line x1="344.87" y1="310.5" x2="344.87" y2="312.6" stroke-width="0.8"/>
<line x1="351.76" y1="310.5" x2="351.76" y2="312.6" stroke-width="0.8"/>
<line x1="357.73" y1="310.5" x2="357.73" y2="312.6" stroke-width="0.8"/>
<line x1="362.99" y1="310.5" x2="362.99" y2="312.6" stroke-width="0.8"/>
<line x1="367.70" y1="310.5" x2="367.70" y2="314.0" stroke-width="1.1"/>
<line x1="398.68" y1="310.5" x2="398.68" y2="312.6" stroke-width="0.8"/>
<line x1="416.80" y1="310.5" x2="416.80" y2="312.6" stroke-width="0.8"/>
<line x1="429.65" y1="310.5" x2="429.65" y2="312.6" stroke-width="0.8"/>
<line x1="439.62" y1="310.5" x2="439.62" y2="312.6" stroke-width="0.8"/>
<line x1="447.77" y1="310.5" x2="447.77" y2="312.6" stroke-width="0.8"/>
<line x1="454.66" y1="310.5" x2="454.66" y2="312.6" stroke-width="0.8"/>
<line x1="460.63" y1="310.5" x2="460.63" y2="312.6" stroke-width="0.8"/>
<line x1="465.89" y1="310.5" x2="465.89" y2="312.6" stroke-width="0.8"/>
<line x1="470.60" y1="310.5" x2="470.60" y2="314.0" stroke-width="1.1"/>
<line x1="56.0" y1="310.50" x2="59.5" y2="310.50" stroke-width="1.1"/>
<line x1="57.4" y1="295.40" x2="59.5" y2="295.40" stroke-width="0.8"/>
<line x1="57.4" y1="286.56" x2="59.5" y2="286.56" stroke-width="0.8"/>
<line x1="57.4" y1="280.30" x2="59.5" y2="280.30" stroke-width="0.8"/>
<line x1="57.4" y1="275.44" x2="59.5" y2="275.44" stroke-width="0.8"/>
<line x1="57.4" y1="271.46" x2="59.5" y2="271.46" stroke-width="0.8"/>
<line x1="57.4" y1="268.10" x2="59.5" y2="268.10" stroke-width="0.8"/>
<line x1="57.4" y1="265.19" x2="59.5" y2="265.19" stroke-width="0.8"/>
<line x1="57.4" y1="262.63" x2="59.5" y2="262.63" stroke-width="0.8"/>
<line x1="56.0" y1="260.33" x2="59.5" y2="260.33" stroke-width="1.1"/>
<line x1="57.4" y1="245.23" x2="59.5" y2="245.23" stroke-width="0.8"/>
<line x1="57.4" y1="236.40" x2="59.5" y2="236.40" stroke-width="0.8"/>
<line x1="57.4" y1="230.13" x2="59.5" y2="230.13" stroke-width="0.8"/>
<line x1="57.4" y1="225.27" x2="59.5" y2="225.27" stroke-width="0.8"/>
<line x1="57.4" y1="221.30" x2="59.5" y2="221.30" stroke-width="0.8"/>
<line x1="57.4" y1="217.94" x2="59.5" y2="217.94" stroke-width="0.8"/>
<line x1="57.4" y1="215.03" x2="59.5" y2="215.03" stroke-width="0.8"/>
<line x1="57.4" y1="212.46" x2="59.5" y2="212.46" stroke-width="0.8"/>
<line x1="56.0" y1="210.17" x2="59.5" y2="210.17" stroke-width="1.1"/>
<line x1="57.4" y1="195.06" x2="59.5" y2="195.06" stroke-width="0.8"/>
<line x1="57.4" y1="186.23" x2="59.5" y2="186.23" stroke-width="0.8"/>
<line x1="57.4" y1="179.96" x2="59.5" y2="179.96" stroke-width="0.8"/>
<line x1="57.4" y1="175.10" x2="59.5" y2="175.10" stroke-width="0.8"/>
<line x1="57.4" y1="171.13" x2="59.5" y2="171.13" stroke-width="0.8"/>
<line x1="57.4" y1="167.77" x2="59.5" y2="167.77" stroke-width="0.8"/>
<line x1="57.4" y1="164.86" x2="59.5" y2="164.86" stroke-width="0.8"/>
<line x1="57.4" y1="162.30" x2="59.5" y2="162.30" stroke-width="0.8"/>
<line x1="56.0" y1="160.00" x2="59.5" y2="160.00" stroke-width="1.1"/>
<line x1="57.4" y1="144.90" x2="59.5" y2="144.90" stroke-width="0.8"/>
<line x1="57.4" y1="136.06" x2="59.5" y2="136.06" stroke-width="0.8"/>
<line x1="57.4" y1="129.80" x2="59.5" y2="129.80" stroke-width="0.8"/>
<line x1="57.4" y1="124.94" x2="59.5" y2="124.94" stroke-width="0.8"/>
<line x1="57.4" y1="120.96" x2="59.5" y2="120.96" stroke-width="0.8"/>
<line x1="57.4" y1="117.60" x2="59.5" y2="117.60" stroke-width="0.8"/>
<line x1="57.4" y1="114.69" x2="59.5" y2="114.69" stroke-width="0.8"/>
<line x1="57.4" y1="112.13" x2="59.5" y2="112.13" stroke-width="0.8"/>
<line x1="56.0" y1="109.83" x2="59.5" y2="109.83" stroke-width="1.1"/>
<line x1="57.4" y1="94.73" x2="59.5" y2="94.73" stroke-width="0.8"/>
<line x1="57.4" y1="85.90" x2="59.5" y2="85.90" stroke-width="0.8"/>
<line x1="57.4" y1="79.63" x2="59.5" y2="79.63" stroke-width="0.8"/>
<line x1="57.4" y1="74.77" x2="59.5" y2="74.77" stroke-width="0.8"/>
<line x1="57.4" y1="70.80" x2="59.5" y2="70.80" stroke-width="0.8"/>
<line x1="57.4" y1="67.44" x2="59.5" y2="67.44" stroke-width="0.8"/>
<line x1="57.4" y1="64.53" x2="59.5" y2="64.53" stroke-width="0.8"/>
<line x1="57.4" y1="61.96" x2="59.5" y2="61.96" stroke-width="0.8"/>
<line x1="56.0" y1="59.67" x2="59.5" y2="59.67" stroke-width="1.1"/>
<line x1="57.4" y1="44.56" x2="59.5" y2="44.56" stroke-width="0.8"/>
<line x1="57.4" y1="35.73" x2="59.5" y2="35.73" stroke-width="0.8"/>
<line x1="57.4" y1="29.46" x2="59.5" y2="29.46" stroke-width="0.8"/>
<line x1="57.4" y1="24.60" x2="59.5" y2="24.60" stroke-width="0.8"/>
<line x1="57.4" y1="20.63" x2="59.5" y2="20.63" stroke-width="0.8"/>
<line x1="57.4" y1="17.27" x2="59.5" y2="17.27" stroke-width="0.8"/>
<line x1="57.4" y1="14.36" x2="59.5" y2="14.36" stroke-width="0.8"/>
<line x1="57.4" y1="11.80" x2="59.5" y2="11.80" stroke-width="0.8"/>
<line x1="56.0" y1="9.50" x2="59.5" y2="9.50" stroke-width="1.1"/>
</g>
<g font-family="Liberation Serif" font-size="15" fill="#000" stroke="#000" stroke-width="0.25">
<text x="59.30" y="331.2" text-anchor="middle">10<tspan dy="-9" font-size="10.5">0</tspan></text>
<text x="162.20" y="331.2" text-anchor="middle">10<tspan dy="-9" font-size="10.5">1</tspan></text>
<text x="265.10" y="331.2" text-anchor="middle">10<tspan dy="-9" font-size="10.5">2</tspan></text>
<text x="368.00" y="331.2" text-anchor="middle">10<tspan dy="-9" font-size="10.5">3</tspan></text>
<text x="470.90" y="331.2" text-anchor="middle">10<tspan dy="-9" font-size="10.5">4</tspan></text>
<text x="20.7" y="15.50">10<tspan x="35.1" dy="-9" font-size="10.5">−15</tspan></text>
<text x="20.7" y="65.67">10<tspan x="35.1" dy="-9" font-size="10.5">−16</tspan></text>
<text x="20.7" y="115.83">10<tspan x="35.1" dy="-9" font-size="10.5">−17</tspan></text>
<text x="20.7" y="166.00">10<tspan x="35.1" dy="-9" font-size="10.5">−18</tspan></text>
<text x="20.7" y="216.17">10<tspan x="35.1" dy="-9" font-size="10.5">−19</tspan></text>
<text x="20.7" y="266.33">10<tspan x="35.1" dy="-9" font-size="10.5">−20</tspan></text>
<text x="20.7" y="316.50">10<tspan x="35.1" dy="-9" font-size="10.5">−21</tspan></text>
<text x="217.5" y="348.3" font-size="15.4" transform="translate(217.5,0) scale(0.965,1) translate(-217.5,0)">Frequency [Hz]</text>
<text transform="translate(13.3,229.8) rotate(-90) scale(0.99,1)" x="0" y="0">Displacement [m/√Hz]</text>
</g>
<g>
<rect x="152.2" y="16.3" width="311" height="63.7" rx="2.5" ry="2.5" fill="#fff" fill-opacity="0.8" stroke="#cccccc" stroke-width="0.9"/>
<g stroke-width="2.8" fill="none">
<line x1="156.2" y1="26.8" x2="187" y2="26.8" stroke="#000000"/>
<line x1="156.2" y1="46.85" x2="187" y2="46.85" stroke="#5e3c99"/>
<line x1="156.2" y1="65.4" x2="187" y2="65.4" stroke="#e69b1f"/>
<line x1="314.7" y1="26.9" x2="345.3" y2="26.9" stroke="#cc1218"/>
<line x1="314.7" y1="46.8" x2="345.3" y2="46.8" stroke="#993d8f"/>
<line x1="314.7" y1="65.4" x2="345.3" y2="65.4" stroke="#6ebee8"/>
</g>
<g font-family="Liberation Serif" font-size="15" fill="#000" stroke="#000" stroke-width="0.25">
<text x="196.5" y="31.5" transform="translate(196.5,0) scale(0.965,1) translate(-196.5,0)">Total</text>
<text x="196.5" y="51.0" transform="translate(196.5,0) scale(0.95,1) translate(-196.5,0)">Quantum Vacuum</text>
<text x="196.5" y="70.3" transform="translate(196.5,0) scale(0.94,1) translate(-196.5,0)">Substrate Thermal</text>
<text x="354.3" y="30.9" transform="translate(354.3,0) scale(0.925,1) translate(-354.3,0)">CTN SiO<tspan dy="3" font-size="10.5">2</tspan><tspan dy="-3">/Ta</tspan><tspan dy="3" font-size="10.5">2</tspan><tspan dy="-3">O</tspan><tspan dy="3" font-size="10.5">5</tspan></text>
<text x="354.3" y="51.0" transform="translate(354.3,0) scale(0.945,1) translate(-354.3,0)">CTN SiO<tspan dy="3" font-size="10.5">2</tspan><tspan dy="-3">/aSi</tspan></text>
<text x="354.3" y="70.3" transform="translate(354.3,0) scale(0.945,1) translate(-354.3,0)">CTN SiN/aSi</text>
</g>
</g>
</svg>
</body></html>
